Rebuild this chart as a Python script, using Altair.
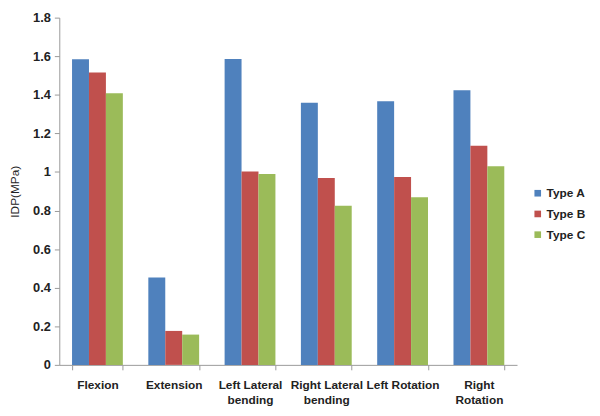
import altair as alt
import pandas as pd

categories = ["Flexion", "Extension", "Left Lateral|bending", "Right Lateral|bending",
              "Left Rotation", "Right Rotation"]
types = ["Type A", "Type B", "Type C"]
type_a = [1.584, 0.453, 1.586, 1.359, 1.366, 1.423]
type_b = [1.516, 0.176, 1.003, 0.969, 0.974, 1.136]
type_c = [1.408, 0.157, 0.989, 0.825, 0.869, 1.029]
colors = ["#4F81BD", "#C0504D", "#9BBB59"]
y_ticks = [0, 0.2, 0.4, 0.6, 0.8, 1.0, 1.2, 1.4, 1.6, 1.8]

rows = []
for t, vals in zip(types, [type_a, type_b, type_c]):
    for c, v in zip(categories, vals):
        rows.append({"cat": c, "type": t, "value": v})
df = pd.DataFrame(rows)

label_expr = "datum.value == 'Right Rotation' ? ['Right', 'Rotation'] : split(datum.label, '|')"

chart = alt.Chart(df).mark_bar().encode(
    x=alt.X("cat:N", sort=categories,
            scale=alt.Scale(paddingInner=0.334, paddingOuter=0.167),
            axis=alt.Axis(title=None, labelAngle=0, tickBand="extent", labelExpr=label_expr,
                          labelFont="Liberation Sans", labelFontWeight="bold", labelFontSize=12,
                          labelColor="#222", labelPadding=10, labelLineHeight=15,
                          domainColor="#999", tickColor="#999", tickSize=5)),
    xOffset=alt.XOffset("type:N", sort=types, scale=alt.Scale(paddingInner=0, paddingOuter=0)),
    y=alt.Y("value:Q",
            scale=alt.Scale(domain=[0, 1.8], nice=False),
            axis=alt.Axis(title="IDP(MPa)", values=y_ticks, grid=False,
                          labelExpr="datum.value == 1 ? '1' : (datum.value == 0 ? '0' : format(datum.value, '.1f'))",
                          labelFont="Liberation Sans", labelFontWeight="bold", labelFontSize=13,
                          labelColor="#222", labelPadding=4,
                          domainColor="#999", tickColor="#999", tickSize=5,
                          titleFont="Liberation Sans", titleFontWeight="normal", titleFontSize=12,
                          titleColor="#222", titleX=-45, titleY=176, titleAngle=-90,
                          titleBaseline="middle", titleAlign="center")),
    color=alt.Color("type:N", sort=types,
                    scale=alt.Scale(domain=types, range=colors),
                    legend=alt.Legend(title=None, orient="none", legendX=479, legendY=172,
                                      symbolType="square", symbolSize=45, symbolStrokeWidth=0,
                                      labelFont="Liberation Sans", labelFontWeight="bold",
                                      labelFontSize=12, labelColor="#222", labelOffset=3,
                                      rowPadding=9)),
).properties(
    width=464, height=352,
    autosize=alt.AutoSizeParams(type="none"),
    padding={"left": 52, "top": 7, "right": 76, "bottom": 45},
).configure_view(stroke=None)

chart.save("out.html", embed_options={"renderer": "svg", "actions": False})
